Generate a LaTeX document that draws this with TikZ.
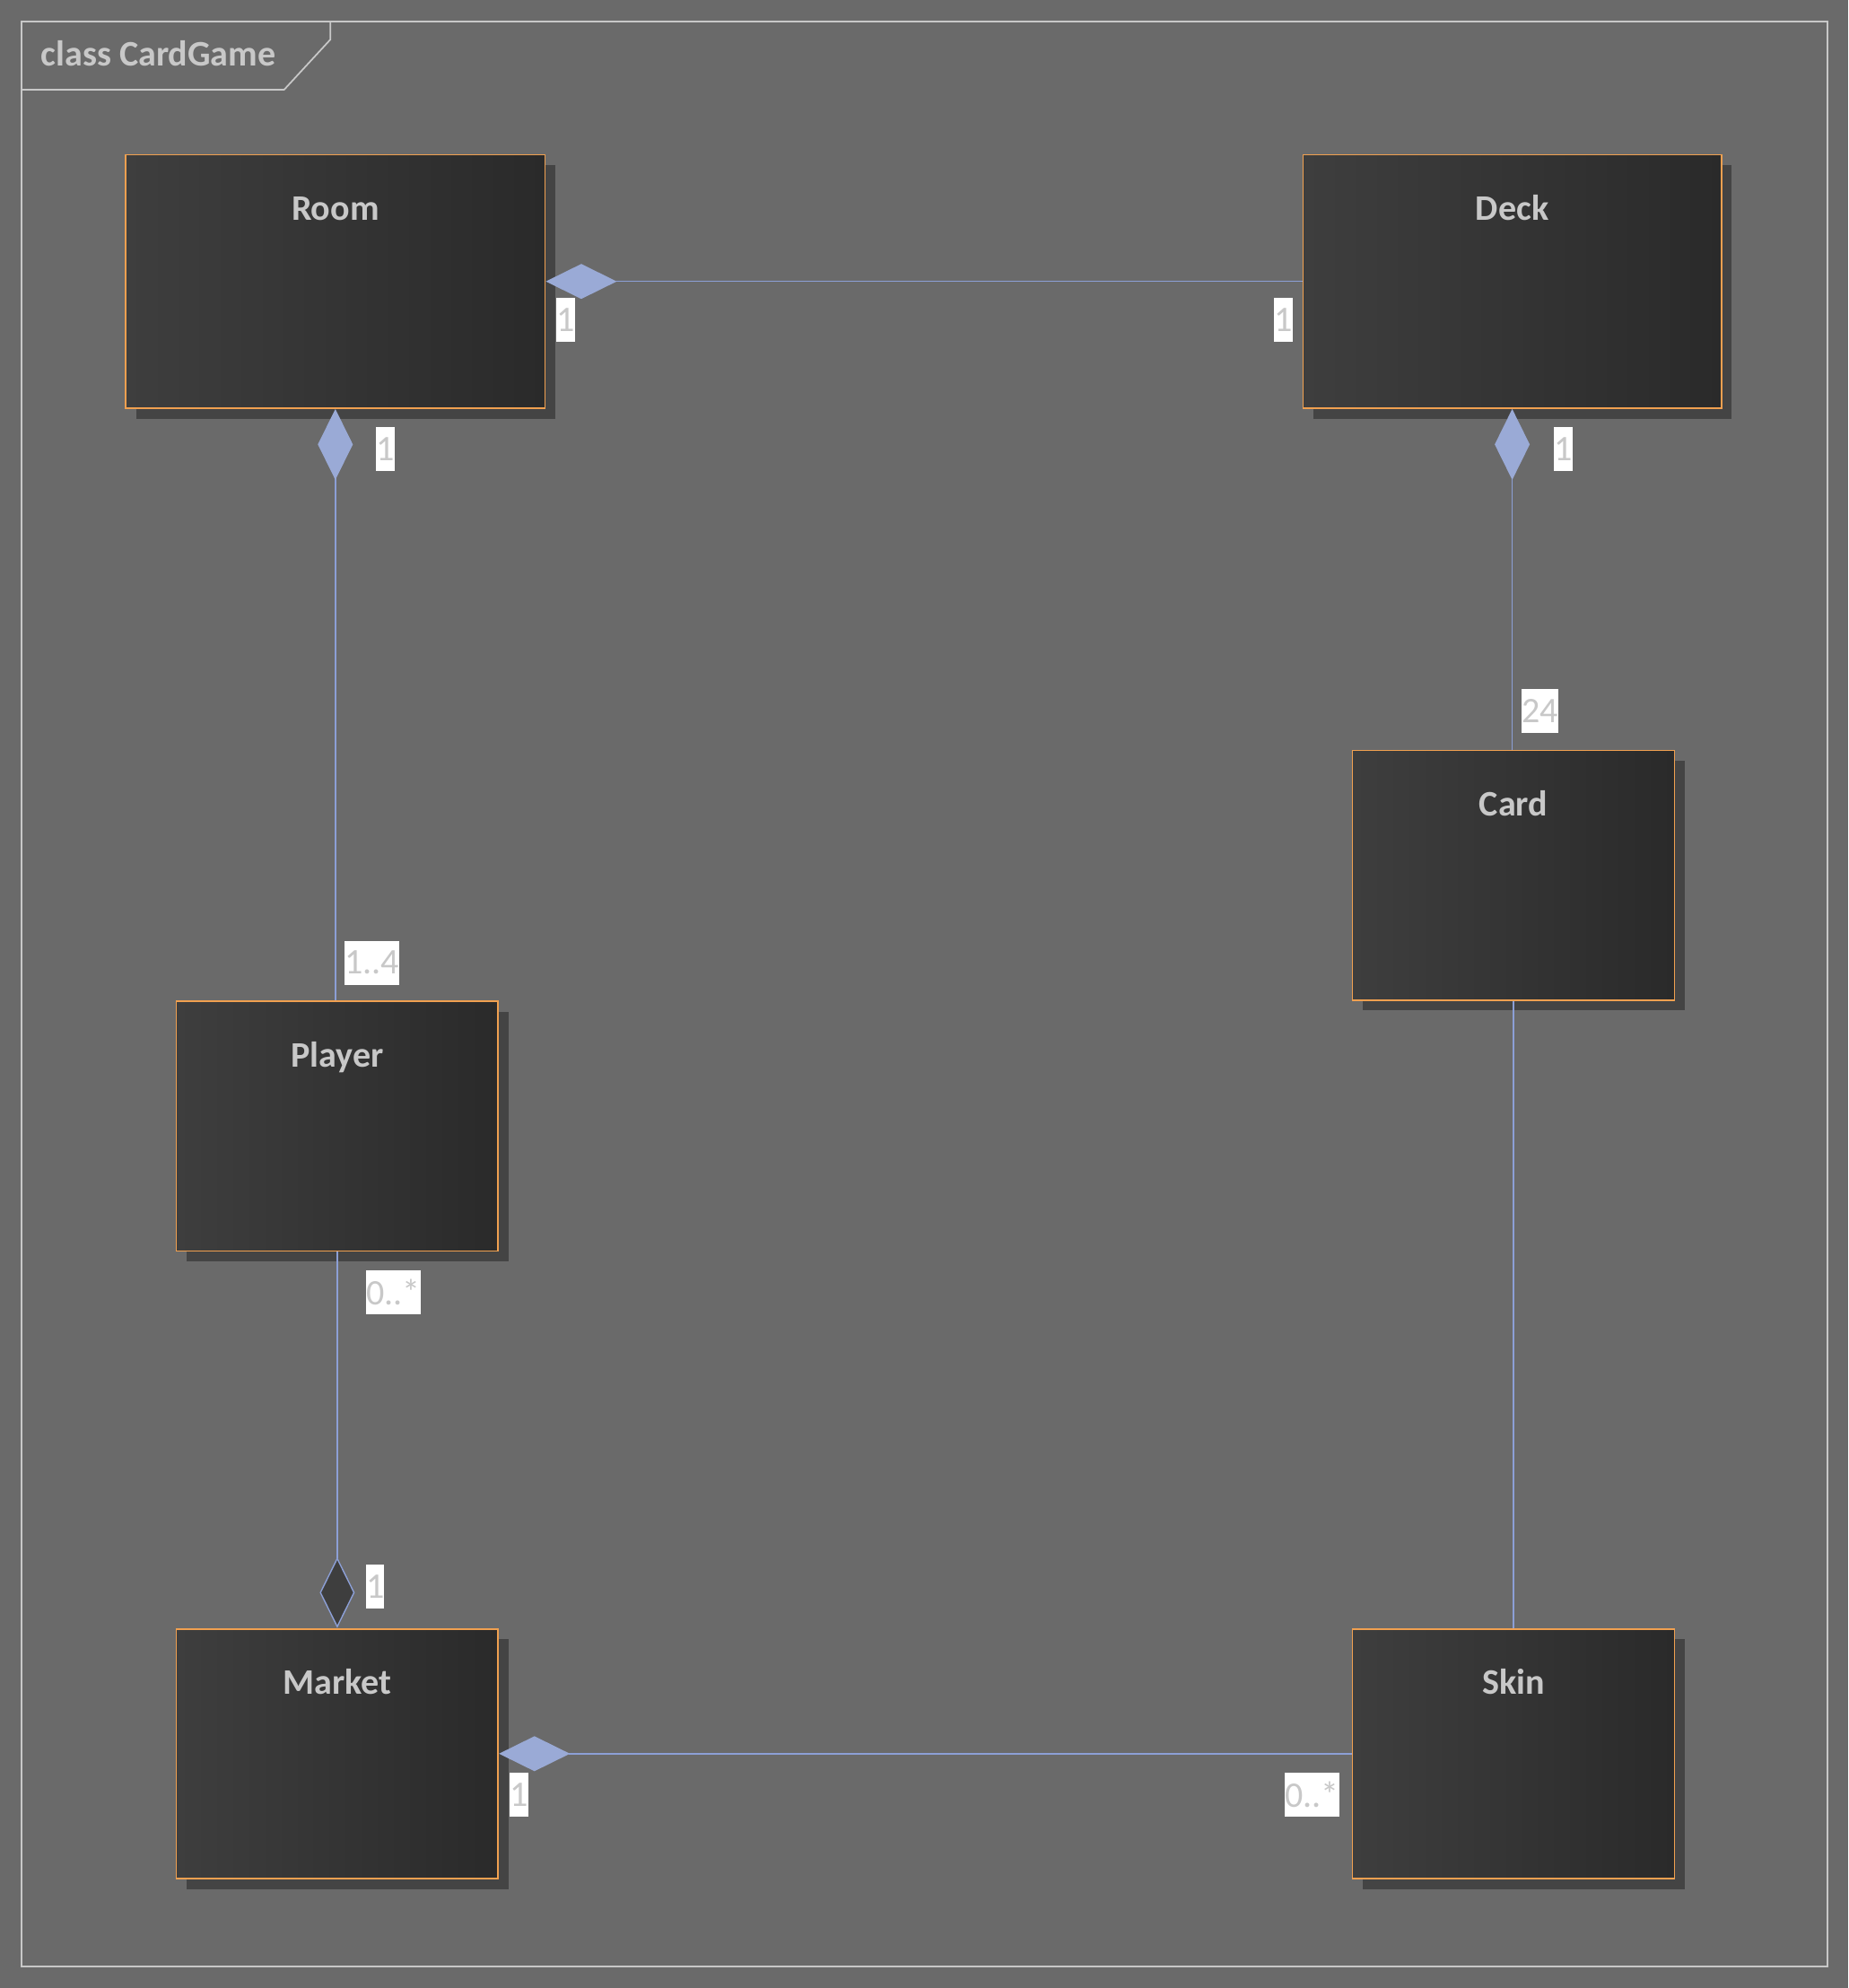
\documentclass[tikz,border=0pt]{standalone}
\usepackage{fontspec}
\setmainfont{Carlito}
\usepackage{xcolor}
\usetikzlibrary{arrows.meta,shadows}

\definecolor{paper}{HTML}{6A6A6A}
\definecolor{frameline}{HTML}{C8C8C8}
\definecolor{nametext}{HTML}{C8C8C8}
\definecolor{boxleft}{HTML}{3E3E3E}
\definecolor{boxright}{HTML}{2A2A2A}
\definecolor{boxedge}{HTML}{F0A050}
\definecolor{shade}{HTML}{444444}
\definecolor{lineblue}{HTML}{8C9FD6}
\definecolor{diamblue}{HTML}{9AAAD6}

\newcommand\umlfont{\fontsize{11.4}{13.7}\selectfont}

\begin{document}
\begin{tikzpicture}[
      cls/.style={draw=boxedge,line width=0.5pt,left color=boxleft,right color=boxright,
            general shadow={fill=shade,shadow xshift=1.15mm,shadow yshift=-1.15mm},inner sep=0pt},
      clsname/.style={anchor=base,font=\umlfont\bfseries,text=nametext},
      mult/.style={fill=white,text=nametext,inner sep=0pt,minimum height=4.9mm,font=\umlfont},
      assoc/.style={draw=lineblue,line width=0.4pt},
      compline/.style={assoc,{Diamond[length=7.9mm,width=3.9mm,fill=diamblue,color=diamblue]}-},
      every node/.style={font=\umlfont}
]
\useasboundingbox (0,0) rectangle (20.6,-22.16);
\fill[paper] (0,0) rectangle (20.6,-22.16);

% frame and title tab
\draw[frameline,line width=0.5pt] (0.243,-0.243) rectangle (20.367,-21.92);
\draw[frameline,line width=0.5pt] (0.243,-1.0) -- (3.167,-1.0) -- (3.683,-0.44) -- (3.683,-0.243);
\node[anchor=base west,font=\umlfont\bfseries,text=nametext,inner sep=0pt] (title) at (0.45,-0.733) {class CardGame};

% classes
\foreach \name/\x/\y/\w/\h in {Room/3.738/-3.137/4.675/2.826,Deck/16.856/-3.137/4.662/2.826,
      Card/16.870/-9.756/3.588/2.784,Player/3.759/-12.553/3.589/2.785,
      Market/3.759/-19.548/3.589/2.784,Skin/16.870/-19.548/3.588/2.784} {
      \node[cls,minimum width=\w cm,minimum height=\h cm] (\name) at (\x,\y) {};
      \node[clsname] (\name-t) at ([yshift=-7.4mm]\name.north) {\name};
}

% associations
\draw[compline] (Room.east) -- (Deck.west);
\draw[compline] (Room.south) -- (Room.south |- Player.north);
\draw[compline] (Deck.south) -- (Deck.south |- Card.north);
\draw[assoc,-{Diamond[length=7.9mm,width=3.9mm,fill=boxleft,color=lineblue]}] (Player.south) -- (Market.north);
\draw[assoc] (Card.south) -- (Skin.north);
\draw[compline] (Market.east) -- (Skin.west);

% multiplicities
\node[mult] (m-room-r) at (6.305,-3.565) {1};
\node[mult] (m-deck-l) at (14.305,-3.565) {1};
\node[mult] (m-room-b) at (4.295,-5.008) {1};
\node[mult] (m-deck-b) at (17.425,-5.005) {1};
\node[mult] (m-player-t) at (4.145,-10.73) {1..4};
\node[mult] (m-card-t) at (17.165,-7.925) {24};
\node[mult] (m-player-b) at (4.383,-14.403) {0..*};
\node[mult] (m-market-t) at (4.183,-17.683) {1};
\node[mult] (m-market-r) at (5.785,-20.003) {1};
\node[mult] (m-skin-l) at (14.625,-20.003) {0..*};
\end{tikzpicture}
\end{document}
